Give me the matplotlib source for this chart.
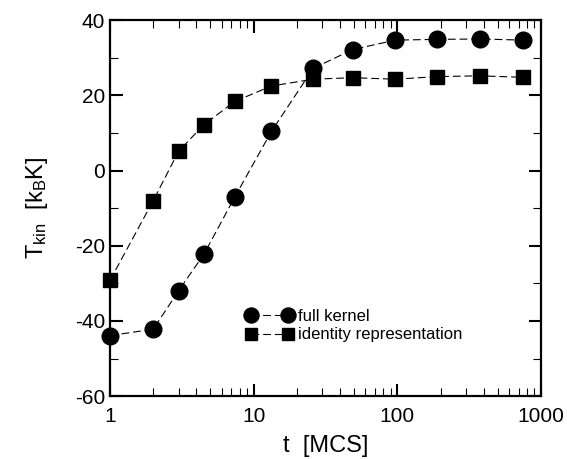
import matplotlib
matplotlib.use("Agg")
import matplotlib.pyplot as plt
from matplotlib.ticker import FixedLocator, NullFormatter, LogLocator

plt.rcParams['font.family'] = ['Liberation Sans', 'DejaVu Sans']
plt.rcParams['mathtext.fontset'] = 'custom'
plt.rcParams['mathtext.rm'] = 'Liberation Sans'
plt.rcParams['mathtext.it'] = 'Liberation Sans'
plt.rcParams['axes.unicode_minus'] = False

t_full = [1, 2, 3, 4.5, 7.4, 13.3, 26, 49, 97, 190, 376, 756]
T_full = [-43.9, -42.2, -32.0, -22.3, -7.0, 10.4, 27.2, 32.2, 34.7, 34.9, 35.0, 34.7]

t_ident = [1, 2, 3, 4.5, 7.4, 13.3, 26, 49, 97, 190, 376, 756]
T_ident = [-29.2, -8.0, 5.1, 12.2, 18.4, 22.5, 24.3, 24.7, 24.3, 25.0, 25.2, 24.8]

x_ticks = [1, 10, 100, 1000]
x_tick_labels = ['1', '10', '100', '1000']
y_ticks = [-60, -40, -20, 0, 20, 40]

fig = plt.figure(figsize=(5.67, 4.59), dpi=100)
ax = fig.add_axes([0.194, 0.137, 0.760, 0.819])

dash = (0, (7, 3.5))
ax.plot(t_full, T_full, color='black', linestyle=dash, linewidth=0.8,
        marker='o', markersize=12, label='full kernel', clip_on=False, zorder=3)
ax.plot(t_ident, T_ident, color='black', linestyle=dash, linewidth=0.8,
        marker='s', markersize=9.5, label='identity representation', clip_on=False, zorder=3)

ax.set_xscale('log')
ax.set_xlim(1, 1000)
ax.set_ylim(-60, 40)
ax.set_xticks(x_ticks)
ax.set_xticklabels(x_tick_labels)
ax.xaxis.set_minor_locator(LogLocator(base=10, subs=range(2, 10)))
ax.xaxis.set_minor_formatter(NullFormatter())
ax.set_yticks(y_ticks)
ax.yaxis.set_minor_locator(FixedLocator(range(-50, 40, 20)))

ax.tick_params(which='both', direction='in', top=True, right=True, labelsize=15)
ax.tick_params(which='major', length=9, width=1.5)
ax.tick_params(which='minor', length=6, width=0.8)
ax.tick_params(axis='x', pad=8)
for s in ax.spines.values():
    s.set_linewidth(1.6)

ax.set_xlabel('t  [MCS]', fontsize=17, labelpad=6)
ax.set_ylabel(r'T$_{\rm kin}$  [k$_{\rm B}$K]', fontsize=17, labelpad=18)

leg = ax.legend(loc='lower left', bbox_to_anchor=(0.30, 0.125), frameon=False,
                fontsize=12, handlelength=2.8, handletextpad=0.3,
                labelspacing=0.2, numpoints=2, borderaxespad=0, markerscale=0.9)

fig.savefig('out.png', dpi=100)
